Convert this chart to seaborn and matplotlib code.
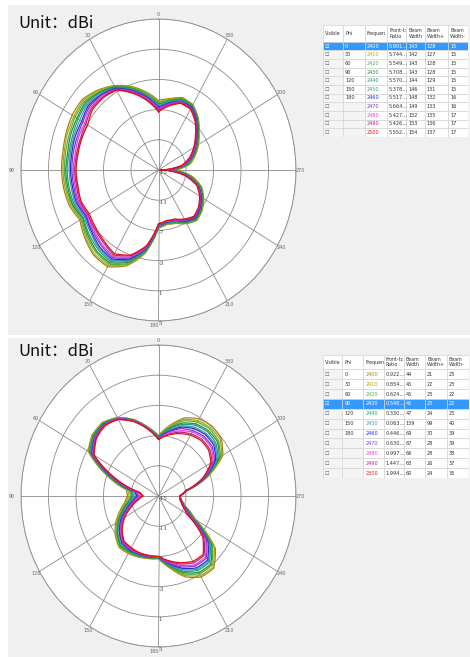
import numpy as np
import pandas as pd
import matplotlib
matplotlib.use('Agg')
import matplotlib.pyplot as plt
from matplotlib.patches import Rectangle
import seaborn as sns

W, H = 470, 657

theta_deg = list(range(0, 360, 10))
freqs = ['2400', '2410', '2420', '2430', '2440', '2450', '2460', '2470', '2480', '2490', '2500']
freq_colors = ['#a8801a', '#b0a800', '#4cb04c', '#2e8b2e', '#20a070', '#3a9aa8',
               '#2030d0', '#8a2be2', '#e040e0', '#c02080', '#e01010']

# gain (dBi) for the Phi = 0 cut, one list per frequency
phi0_2400 = [-5.8, -4.5, -3.2, -2.1, -1.2, -0.5, -0.5, -0.7, -0.9, -0.9, -1.0, -1.2, -1.8, -1.0, -0.3, -0.2, -1.5, -3.8, -7.3, -7.7, -7.5, -6.8, -6.3, -6.7, -7.4, -8.3, -10.0, -12.5, -10.3, -9.3, -8.3, -7.3, -6.0, -5.0, -4.8, -5.4]
phi0_2410 = [-6.0, -4.6, -3.3, -2.2, -1.3, -0.7, -0.8, -0.9, -1.1, -1.1, -1.2, -1.4, -2.0, -1.2, -0.5, -0.4, -1.7, -3.9, -7.4, -7.8, -7.6, -6.9, -6.4, -6.8, -7.5, -8.4, -10.1, -12.7, -10.4, -9.4, -8.4, -7.4, -6.1, -5.1, -4.9, -5.5]
phi0_2420 = [-6.1, -4.7, -3.4, -2.2, -1.5, -0.9, -1.0, -1.2, -1.3, -1.3, -1.4, -1.6, -2.1, -1.4, -0.8, -0.6, -1.8, -4.0, -7.4, -7.8, -7.6, -6.9, -6.4, -6.8, -7.5, -8.5, -10.3, -13.0, -10.6, -9.5, -8.5, -7.4, -6.1, -5.1, -5.0, -5.6]
phi0_2430 = [-6.3, -4.9, -3.5, -2.3, -1.6, -1.1, -1.3, -1.4, -1.6, -1.5, -1.6, -1.7, -2.3, -1.6, -1.0, -0.8, -2.0, -4.1, -7.5, -7.9, -7.7, -7.0, -6.5, -6.9, -7.6, -8.5, -10.4, -13.2, -10.7, -9.6, -8.5, -7.5, -6.2, -5.2, -5.0, -5.7]
phi0_2440 = [-6.4, -5.0, -3.6, -2.4, -1.7, -1.3, -1.5, -1.7, -1.8, -1.7, -1.8, -1.9, -2.4, -1.8, -1.3, -1.0, -2.1, -4.2, -7.5, -7.9, -7.7, -7.1, -6.6, -7.0, -7.7, -8.6, -10.5, -13.4, -10.8, -9.7, -8.6, -7.6, -6.3, -5.3, -5.1, -5.8]
phi0_2450 = [-6.5, -5.1, -3.7, -2.5, -1.9, -1.5, -1.8, -1.9, -2.0, -2.0, -2.1, -2.1, -2.6, -2.1, -1.5, -1.2, -2.3, -4.3, -7.6, -8.0, -7.8, -7.2, -6.7, -7.1, -7.8, -8.7, -10.7, -13.7, -11.0, -9.8, -8.7, -7.7, -6.4, -5.4, -5.2, -5.9]
phi0_2460 = [-6.7, -5.2, -3.8, -2.5, -2.0, -1.7, -2.1, -2.1, -2.2, -2.2, -2.3, -2.3, -2.8, -2.3, -1.7, -1.4, -2.4, -4.4, -7.7, -8.0, -7.9, -7.2, -6.7, -7.1, -7.8, -8.8, -10.8, -13.9, -11.1, -9.8, -8.8, -7.7, -6.4, -5.4, -5.3, -6.0]
phi0_2470 = [-6.8, -5.3, -3.9, -2.6, -2.1, -1.9, -2.3, -2.4, -2.4, -2.4, -2.5, -2.5, -2.9, -2.5, -2.0, -1.6, -2.6, -4.5, -7.7, -8.1, -7.9, -7.3, -6.8, -7.2, -7.9, -8.9, -10.9, -14.1, -11.2, -9.9, -8.9, -7.8, -6.5, -5.5, -5.4, -6.1]
phi0_2480 = [-7.0, -5.5, -4.0, -2.7, -2.2, -2.1, -2.6, -2.6, -2.7, -2.6, -2.7, -2.6, -3.1, -2.7, -2.2, -1.8, -2.7, -4.6, -7.8, -8.1, -8.0, -7.4, -6.9, -7.3, -8.0, -8.9, -11.0, -14.3, -11.3, -10.0, -8.9, -7.9, -6.6, -5.6, -5.4, -6.2]
phi0_2490 = [-7.1, -5.6, -4.1, -2.7, -2.4, -2.3, -2.8, -2.9, -2.9, -2.8, -2.9, -2.8, -3.2, -2.9, -2.5, -2.0, -2.9, -4.7, -7.8, -8.2, -8.0, -7.4, -6.9, -7.3, -8.0, -9.0, -11.2, -14.6, -11.5, -10.1, -9.0, -7.9, -6.6, -5.6, -5.5, -6.3]
phi0_2500 = [-7.3, -5.7, -4.2, -2.8, -2.5, -2.5, -3.1, -3.1, -3.1, -3.0, -3.1, -3.0, -3.4, -3.1, -2.7, -2.2, -3.0, -4.8, -7.9, -8.2, -8.1, -7.5, -7.0, -7.4, -8.1, -9.1, -11.3, -14.8, -11.6, -10.2, -9.1, -8.0, -6.7, -5.7, -5.6, -6.4]

# gain (dBi) for the Phi = 90 cut
phi90_2400 = [-7.0, -5.7, -4.2, -3.0, -2.3, -2.4, -3.2, -7.0, -10.3, -10.5, -10.0, -9.0, -7.8, -6.8, -6.1, -6.2, -6.4, -6.6, -6.7, -5.3, -3.6, -2.6, -2.5, -4.2, -8.8, -10.8, -11.6, -11.9, -10.8, -7.3, -4.2, -3.1, -2.9, -3.2, -4.0, -5.5]
phi90_2410 = [-7.0, -5.7, -4.2, -3.0, -2.3, -2.5, -3.3, -7.2, -10.5, -10.7, -10.2, -9.2, -8.0, -6.9, -6.2, -6.3, -6.5, -6.6, -6.7, -5.4, -3.8, -2.8, -2.7, -4.4, -9.0, -10.8, -11.6, -11.9, -10.8, -7.4, -4.4, -3.3, -3.2, -3.5, -4.2, -5.6]
phi90_2420 = [-7.1, -5.8, -4.3, -3.1, -2.4, -2.6, -3.4, -7.3, -10.7, -11.0, -10.4, -9.4, -8.1, -7.1, -6.3, -6.4, -6.5, -6.7, -6.8, -5.5, -4.0, -3.1, -3.0, -4.7, -9.1, -10.9, -11.6, -11.9, -10.8, -7.5, -4.6, -3.6, -3.4, -3.7, -4.4, -5.8]
phi90_2430 = [-7.2, -5.8, -4.3, -3.1, -2.5, -2.6, -3.5, -7.5, -10.9, -11.2, -10.6, -9.5, -8.3, -7.2, -6.4, -6.5, -6.6, -6.7, -6.8, -5.6, -4.2, -3.3, -3.2, -4.9, -9.3, -11.0, -11.7, -11.9, -10.9, -7.6, -4.8, -3.8, -3.7, -4.0, -4.7, -5.9]
phi90_2440 = [-7.2, -5.8, -4.3, -3.1, -2.5, -2.7, -3.6, -7.6, -11.1, -11.4, -10.8, -9.7, -8.4, -7.3, -6.5, -6.6, -6.6, -6.8, -6.8, -5.7, -4.4, -3.6, -3.5, -5.2, -9.4, -11.0, -11.7, -11.9, -10.9, -7.7, -5.0, -4.1, -3.9, -4.2, -4.9, -6.0]
phi90_2450 = [-7.3, -5.9, -4.4, -3.2, -2.6, -2.8, -3.7, -7.8, -11.3, -11.7, -11.0, -9.9, -8.6, -7.5, -6.7, -6.7, -6.7, -6.8, -6.9, -5.8, -4.6, -3.8, -3.7, -5.4, -9.6, -11.1, -11.7, -11.9, -10.9, -7.8, -5.2, -4.3, -4.2, -4.5, -5.1, -6.2]
phi90_2460 = [-7.3, -5.9, -4.4, -3.2, -2.6, -2.9, -3.8, -7.9, -11.5, -11.9, -11.2, -10.1, -8.7, -7.6, -6.8, -6.7, -6.8, -6.8, -6.9, -5.9, -4.8, -4.0, -3.9, -5.6, -9.7, -11.1, -11.7, -11.9, -10.9, -7.8, -5.4, -4.5, -4.4, -4.7, -5.3, -6.3]
phi90_2470 = [-7.4, -5.9, -4.4, -3.2, -2.7, -3.0, -3.9, -8.1, -11.7, -12.1, -11.4, -10.3, -8.9, -7.7, -6.9, -6.8, -6.8, -6.9, -6.9, -6.0, -5.0, -4.3, -4.2, -5.9, -9.9, -11.2, -11.7, -11.9, -10.9, -7.9, -5.6, -4.8, -4.7, -5.0, -5.5, -6.4]
phi90_2480 = [-7.4, -5.9, -4.4, -3.2, -2.7, -3.0, -4.0, -8.2, -11.9, -12.3, -11.6, -10.4, -9.0, -7.8, -7.0, -6.9, -6.9, -6.9, -6.9, -6.1, -5.2, -4.5, -4.4, -6.1, -10.0, -11.2, -11.8, -11.9, -11.0, -8.0, -5.8, -5.0, -4.9, -5.2, -5.8, -6.5]
phi90_2490 = [-7.5, -6.0, -4.5, -3.3, -2.8, -3.1, -4.1, -8.4, -12.1, -12.6, -11.8, -10.6, -9.2, -8.0, -7.1, -7.0, -6.9, -7.0, -7.0, -6.2, -5.4, -4.8, -4.7, -6.4, -10.2, -11.3, -11.8, -11.9, -11.0, -8.1, -6.0, -5.3, -5.2, -5.5, -6.0, -6.7]
phi90_2500 = [-7.5, -6.0, -4.5, -3.3, -2.8, -3.2, -4.2, -8.5, -12.3, -12.8, -12.0, -10.8, -9.3, -8.1, -7.2, -7.1, -7.0, -7.0, -7.0, -6.3, -5.6, -5.0, -4.9, -6.6, -10.3, -11.3, -11.8, -11.9, -11.0, -8.2, -6.2, -5.5, -5.4, -5.7, -6.2, -6.8]

r_ticks = [-15, -11, -7, -3, 1, 5]
angle_ticks = list(range(0, 360, 30))

# table contents
header = ['Visible', 'Phi', 'Frequen', 'Front-t:\nRatio', 'Beam\nWidth', 'Beam\nWidth+', 'Beam\nWidth-']
phi_list = ['0', '30', '60', '90', '120', '150', '180', '', '', '', '']
fb_phi0 = ['5.901…', '5.744…', '5.549…', '5.708…', '5.570…', '5.378…', '5.517…', '5.664…', '5.427…', '5.426…', '5.552…']
bw_phi0 = ['143', '142', '143', '143', '144', '146', '148', '149', '152', '153', '154']
bwp_phi0 = ['128', '127', '128', '128', '129', '131', '132', '133', '135', '136', '137']
bwm_phi0 = ['15', '15', '15', '15', '15', '15', '16', '16', '17', '17', '17']
fb_phi90 = ['0.922…', '0.854…', '0.624…', '0.548…', '0.330…', '0.063…', '0.446…', '0.630…', '0.997…', '1.447…', '1.994…']
bw_phi90 = ['44', '45', '45', '45', '47', '139', '69', '67', '66', '63', '60']
bwp_phi90 = ['21', '22', '23', '23', '24', '99', '30', '28', '28', '26', '24']
bwm_phi90 = ['23', '23', '22', '22', '23', '40', '39', '39', '38', '37', '36']


def fx(x):
    return x / W


def fy(y):
    return 1 - y / H


fig = plt.figure(figsize=(4.7, 6.57), dpi=100, facecolor='white')

# gray screenshot panels
for top, bot in [(5, 335), (338, 657)]:
    fig.add_artist(Rectangle((fx(8), fy(bot)), fx(470) - fx(8), fy(top) - fy(bot),
                             transform=fig.transFigure, facecolor='#f0f0f0',
                             edgecolor='none', zorder=0))


def draw_polar(cy, series):
    ax = fig.add_axes([fx(21), fy(cy + 151), fx(296) - fx(21), 302 / H], projection='polar')
    ax.set_aspect('auto')
    ax.set_theta_zero_location('N')
    ax.set_theta_direction(1)
    ax.set_facecolor('white')

    rows = []
    for f, vals in zip(freqs, series):
        for t, v in zip(theta_deg + [360], vals + vals[:1]):
            rows.append({'theta': np.deg2rad(t), 'gain': v, 'freq': f})
    df = pd.DataFrame(rows)
    sns.lineplot(data=df, x='theta', y='gain', hue='freq', hue_order=freqs,
                 palette=dict(zip(freqs, freq_colors)), sort=False, estimator=None,
                 legend=False, linewidth=0.9, ax=ax)
    # let the polar transform draw each segment as a curve
    for line in ax.lines:
        line.get_path()._interpolation_steps = 12

    ax.set_ylim(-15, 5)
    ax.set_yticks([-11, -7, -3, 1, 5])
    ax.set_yticklabels([])
    ax.set_xticks(np.deg2rad(angle_ticks))
    ax.set_xticklabels([])
    ax.tick_params(axis='x', length=0)
    ax.grid(True, color='#8c8c8c', linewidth=0.6)
    ax.spines['polar'].set_color('#8c8c8c')
    ax.spines['polar'].set_linewidth(0.6)
    ax.set_xlabel('')
    ax.set_ylabel('')
    for a in angle_ticks:
        r = 6.3 if a == 90 else 5.6
        ha = 'right' if a == 180 else 'center'
        ax.text(np.deg2rad(a), r, str(a), fontsize=3.5, color='#666666',
                ha=ha, va='center', clip_on=False)
    for v in r_ticks:
        ax.text(np.pi, v, str(v), fontsize=4, color='#444444', ha='left', va='top',
                family='DejaVu Serif', clip_on=False)
    return ax


def draw_table(x0, y0, edges, head_h, row_h, cols, selected):
    total_h = head_h + 11 * row_h
    tax = fig.add_axes([fx(x0), fy(y0 + total_h), edges[-1] / W, total_h / H])
    tax.set_xlim(0, edges[-1])
    tax.set_ylim(total_h, 0)
    tax.axis('off')
    lc = '#d4d4d4'
    for j, lab in enumerate(header):
        tax.add_patch(Rectangle((edges[j], 0), edges[j + 1] - edges[j], head_h,
                                facecolor='white', edgecolor=lc, linewidth=0.5))
        tax.text(edges[j] + 2, head_h / 2, lab, fontsize=3.4, ha='left', va='center',
                 color='#333333', linespacing=1.1)
    for i in range(11):
        y = head_h + i * row_h
        sel = i == selected
        for j in range(7):
            fc = 'white'
            if j == 0 or (j == 1 and cols[1][i] == ''):
                fc = '#f4f4f4'
            if sel:
                fc = '#3399ff'
            tax.add_patch(Rectangle((edges[j], y), edges[j + 1] - edges[j], row_h,
                                    facecolor=fc, edgecolor=lc, linewidth=0.5))
            txt = cols[j][i]
            color = '#333333'
            if j == 0:
                txt = '☑' if sel else '☐'
                color = '#555555'
            if j == 2:
                color = freq_colors[i]
            if sel:
                color = 'white'
            tax.text(edges[j] + 2, y + row_h / 2, txt, fontsize=3.6, ha='left',
                     va='center', color=color)


draw_polar(170, [phi0_2400, phi0_2410, phi0_2420, phi0_2430, phi0_2440, phi0_2450,
                 phi0_2460, phi0_2470, phi0_2480, phi0_2490, phi0_2500])
draw_polar(496, [phi90_2400, phi90_2410, phi90_2420, phi90_2430, phi90_2440, phi90_2450,
                 phi90_2460, phi90_2470, phi90_2480, phi90_2490, phi90_2500])

for y in (24, 351):
    fig.text(fx(18), fy(y), 'Unit：dBi', fontsize=12, ha='left', va='center',
             family=['Noto Sans CJK SC', 'DejaVu Sans'], color='#111111')

draw_table(323, 25, [0, 20, 41.7, 64, 83.4, 101.7, 125, 145], 16.7, 8.66,
           [[''] * 11, phi_list, freqs, fb_phi0, bw_phi0, bwp_phi0, bwm_phi0], 0)
header[3] = 'Front-tc\nRatio'
draw_table(322.7, 355, [0, 19.6, 40.6, 61.3, 81.3, 102.3, 124, 146.6], 14.3, 9.88,
           [[''] * 11, phi_list, freqs, fb_phi90, bw_phi90, bwp_phi90, bwm_phi90], 3)

fig.savefig('out.png', dpi=100, facecolor='white')
